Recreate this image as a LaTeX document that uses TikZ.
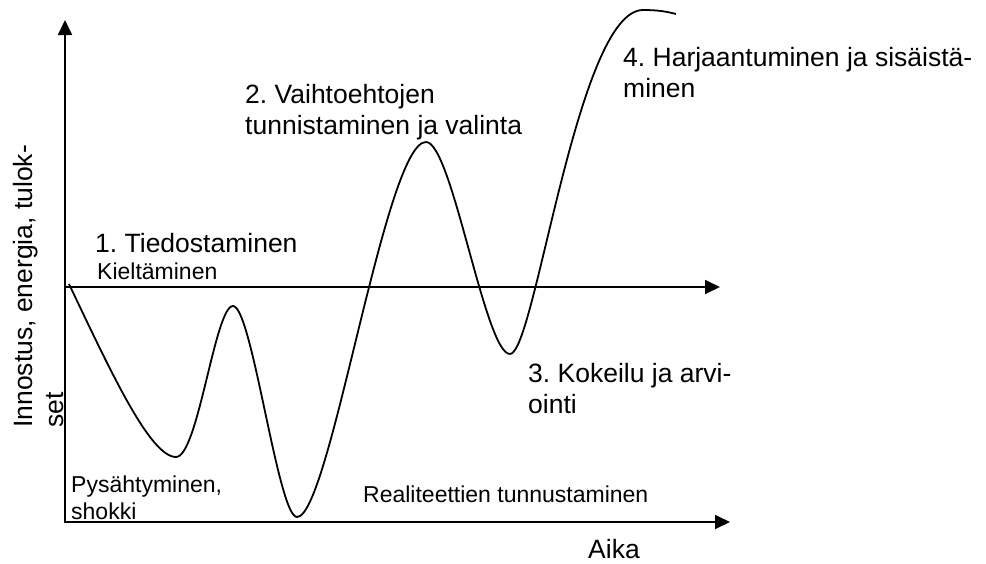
\documentclass[tikz,border=0pt]{standalone}
\usepackage{fontspec}
\setmainfont{Liberation Sans}
\usetikzlibrary{arrows.meta}
\frenchspacing

\begin{document}
\begin{tikzpicture}[x=1pt, y=-1pt,
    >={Triangle[length=15pt, width=14pt]},
    axis/.style={line width=1.8pt},
    curve/.style={line width=1.8pt, line join=round},
    big/.style={inner sep=0pt, anchor=base west, align=left,
        font=\fontsize{26.5}{31}\selectfont},
    small/.style={inner sep=0pt, anchor=base west, align=left,
        font=\fontsize{23}{27}\selectfont}]
    \useasboundingbox (0,0) rectangle (986,563);

    % Axes
    \coordinate (origin) at (65,522);
    \coordinate (ytip) at (65,20);
    \coordinate (xtip) at (730,522);
    \coordinate (zero) at (65,287);
    \coordinate (ztip) at (720,287);
    \draw[axis, <->] (ytip) -- (origin) -- (xtip);
    \draw[axis, ->] (zero) -- (ztip);

    % Axis labels (base = last line)
    \node[big, rotate=90] (ylabel) at (63,428)
        {Innostus, energia, tulok-\\set};
    \node[big] (aika) at (588,558) {Aika};

    % Change curve: minima and maxima
    \coordinate (start) at (69,284);
    \coordinate (min1) at (176,457);
    \coordinate (max1) at (233,306);
    \coordinate (min2) at (297,517);
    \coordinate (max2) at (426,142);
    \coordinate (min3) at (510,354);
    \coordinate (top) at (643,10);
    \coordinate (end) at (676,14);
    \draw[curve] (start)
        .. controls (110,370) and (150,457) .. (min1)
        .. controls (198,457) and (215,306) .. (max1)
        .. controls (252,306) and (278,517) .. (min2)
        .. controls (330,517) and (385,142) .. (max2)
        .. controls (452,142) and (485,354) .. (min3)
        .. controls (535,354) and (577,10) .. (top)
        .. controls (660,10) and (668,12) .. (end);

    % Phase labels
    \node[big] (tiedos) at (95,252) {1. Tiedostaminen};
    \node[small] (kielto) at (97,279) {Kieltäminen};
    \node[big] (valinta) at (245,134)
        {2. Vaihtoehtojen\\tunnistaminen ja valinta};
    \node[big] (kokeilu) at (528,413) {3. Kokeilu ja arvi-\\ointi};
    \node[big] (harjaan) at (623,97)
        {4. Harjaantuminen ja sisäistä-\\minen};
    \node[small] (shokki) at (71,519) {Pysähtyminen,\\shokki};
    \node[small] (realit) at (363,502) {Realiteettien tunnustaminen};

\end{tikzpicture}
\end{document}
